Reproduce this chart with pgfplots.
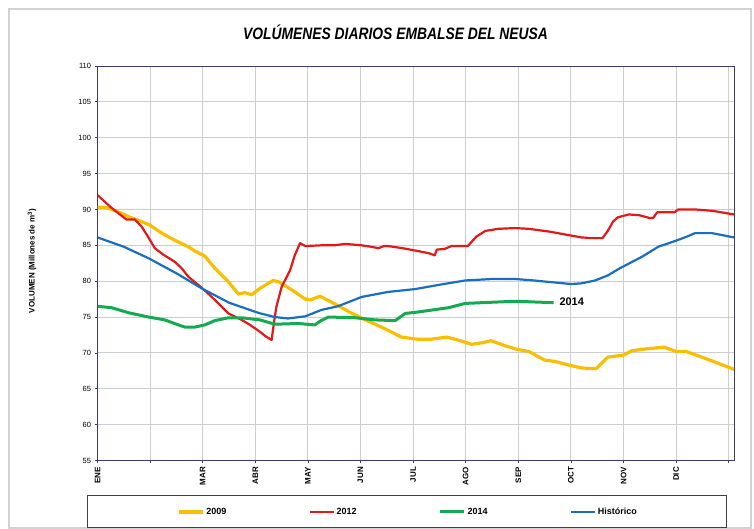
\documentclass[border=0pt]{standalone}
\usepackage{pgfplots}
\pgfplotsset{compat=1.18}
\usepackage{fontspec}
\setmainfont{Liberation Sans}
\definecolor{c09}{RGB}{250,190,0}
\definecolor{c12}{RGB}{225,25,25}
\definecolor{c14}{RGB}{20,170,80}
\definecolor{chist}{RGB}{25,110,190}
\definecolor{gridc}{RGB}{205,205,212}
\definecolor{axc}{RGB}{60,60,100}
\begin{document}
\begin{tikzpicture}
\useasboundingbox (0pt,0pt) rectangle (754pt,529pt);
\draw[gray!35, line width=1.2pt] (9pt,1pt) rectangle (751pt,520pt);
\node[font=\fontsize{16.5}{18}\selectfont\bfseries\itshape] at (395.5pt,497pt) {\scalebox{0.84}[1]{VOLÚMENES DIARIOS EMBALSE DEL NEUSA}};
\node[rotate=90, font=\fontsize{8}{9}\selectfont\bfseries] at (32pt,268pt) {VOLUMEN (Millones de m\textsuperscript{3})};
\begin{axis}[
  at={(97.5pt,68.5pt)}, anchor=south west, scale only axis,
  width=636.5pt, height=394.5pt,
  xmin=0, xmax=12.1, ymin=55, ymax=110,
  xtick={0,1,2,3,4,5,6,7,8,9,10,11,12},
  xticklabels={ENE,,MAR,ABR,MAY,JUN,JUL,AGO,SEP,OCT,NOV,DIC,},
  ytick={55,60,65,70,75,80,85,90,95,100,105,110},
  /pgf/number format/assume math mode=true,
  x tick label style={rotate=90, anchor=east, font=\fontsize{8}{9}\selectfont\bfseries},
  y tick label style={font=\fontsize{7.5}{9}\selectfont},
  tick align=outside, major tick length=3pt,
  xtick pos=bottom, ytick pos=left,
  tick style={axc, line width=0.8pt},
  grid=major, major grid style={gridc, line width=0.9pt},
  axis line style={axc, line width=0.9pt},
  legend columns=4,
  legend style={at={(0.488,-0.1305)}, anchor=center, draw=none, fill=none,
    font=\fontsize{9}{10}\selectfont\bfseries,
    /tikz/every even column/.append style={column sep=80pt}},
  legend image code/.code={\draw[#1] (0pt,0pt) -- (24pt,0pt);},
]
\addplot[c09, line width=3.2pt, line join=round] coordinates {
(0,90.3)(0.15,90.3)(0.27,90.0)(0.45,89.5)(0.59,89.0)(0.84,88.3)(1.0,87.8)(1.22,86.7)(1.47,85.7)(1.73,84.8)(1.85,84.2)(2.04,83.5)(2.23,81.8)(2.49,79.9)(2.68,78.2)(2.8,78.4)(2.93,78.1)(3.09,79.0)(3.34,80.1)(3.45,79.9)(3.69,78.8)(3.95,77.5)(4.05,77.4)(4.23,77.9)(4.52,76.8)(4.84,75.5)(5.09,74.6)(5.40,73.6)(5.78,72.2)(6.09,71.9)(6.33,71.9)(6.64,72.2)(6.9,71.7)(7.11,71.2)(7.3,71.4)(7.48,71.7)(7.75,71.0)(7.97,70.5)(8.2,70.2)(8.5,69.0)(8.7,68.8)(8.96,68.3)(9.2,67.9)(9.48,67.8)(9.70,69.4)(10.0,69.7)(10.16,70.3)(10.35,70.5)(10.77,70.8)(11.0,70.2)(11.19,70.2)(11.64,69.0)(12.1,67.7)
};
\addlegendentry{2009}
\addplot[c12, line width=2.2pt, line join=round] coordinates {
(0,92.0)(0.27,90.2)(0.55,88.6)(0.71,88.6)(0.84,87.6)(0.96,86.2)(1.09,84.6)(1.25,83.7)(1.47,82.7)(1.6,81.8)(1.73,80.6)(1.98,79.1)(2.23,77.4)(2.49,75.5)(2.74,74.6)(2.9,73.9)(3.06,73.1)(3.2,72.3)(3.31,71.8)(3.36,74.5)(3.40,76.4)(3.50,79.2)(3.66,81.5)(3.75,83.6)(3.85,85.3)(3.95,84.9)(4.26,85.0)(4.5,85.0)(4.71,85.2)(5.02,85.0)(5.2,84.8)(5.34,84.6)(5.45,84.9)(5.52,84.9)(5.8,84.6)(6.09,84.2)(6.3,83.9)(6.41,83.6)(6.45,84.4)(6.6,84.5)(6.73,84.9)(7.04,84.9)(7.2,86.2)(7.37,87.0)(7.62,87.3)(7.94,87.4)(8.2,87.3)(8.6,86.9)(8.9,86.5)(9.2,86.1)(9.4,86.0)(9.6,86.0)(9.7,87.0)(9.8,88.3)(9.89,88.9)(10.10,89.3)(10.3,89.2)(10.5,88.8)(10.56,88.8)(10.64,89.6)(10.97,89.6)(11.04,90.0)(11.36,90.0)(11.7,89.8)(12.1,89.3)
};
\addlegendentry{2012}
\addplot[c14, line width=3pt, line join=round] coordinates {
(0,76.5)(0.27,76.3)(0.59,75.6)(0.97,75.0)(1.28,74.6)(1.5,74.0)(1.66,73.6)(1.85,73.6)(2.04,73.9)(2.23,74.5)(2.49,74.9)(2.74,74.9)(3.09,74.6)(3.37,74.0)(3.82,74.1)(4.13,73.9)(4.25,74.5)(4.39,75.0)(4.9,74.9)(5.28,74.6)(5.66,74.5)(5.85,75.5)(6.09,75.7)(6.67,76.3)(6.99,76.9)(7.30,77.0)(7.94,77.2)(8.67,77.0)
};
\addlegendentry{2014}
\addplot[chist, line width=2.2pt, line join=round] coordinates {
(0,86.1)(0.5,84.8)(0.97,83.2)(1.5,81.1)(1.98,79.0)(2.5,77.0)(3.05,75.6)(3.37,75.0)(3.62,74.8)(3.95,75.1)(4.26,76.0)(4.57,76.5)(5.02,77.8)(5.52,78.5)(6.04,78.9)(6.5,79.5)(6.99,80.1)(7.5,80.3)(7.94,80.3)(8.3,80.1)(8.57,79.9)(9.01,79.6)(9.2,79.7)(9.46,80.1)(9.7,80.8)(9.93,81.8)(10.35,83.4)(10.66,84.8)(10.98,85.6)(11.2,86.2)(11.36,86.7)(11.68,86.7)(12.1,86.1)
};
\addlegendentry{Histórico}
\node[anchor=west, font=\fontsize{11}{12}\selectfont\bfseries, inner sep=1pt] at (axis cs:8.76,77.1) {2014};
\end{axis}
\draw[black!75, line width=0.9pt] (87.5pt,2pt) rectangle (726pt,34pt);
\end{tikzpicture}
\end{document}
